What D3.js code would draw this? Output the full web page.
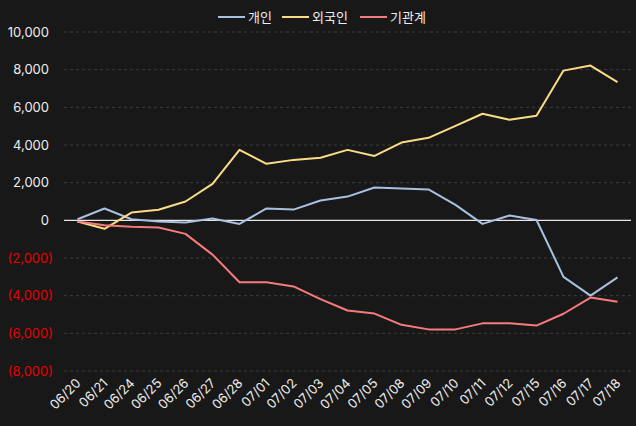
<!DOCTYPE html>
<html><head><meta charset="utf-8">
<script src="https://cdn.jsdelivr.net/npm/d3@7"></script>
<style>
html,body{margin:0;padding:0;background:#181818;}
svg{display:block;font-family:Inter,"Noto Sans CJK KR",sans-serif;}
</style></head>
<body><svg id="chart" width="636" height="426"></svg>
<script>
const dates = ["06/20","06/21","06/24","06/25","06/26","06/27","06/28","07/01","07/02","07/03","07/04","07/05","07/08","07/09","07/10","07/11","07/12","07/15","07/16","07/17","07/18"];
const individual = [60,630,60,-60,-110,100,-190,630,570,1050,1260,1740,1690,1640,820,-190,260,20,-3000,-4000,-3030];
const foreign = [-60,-450,410,560,1000,1940,3740,3000,3210,3320,3740,3420,4130,4380,5020,5660,5340,5550,7950,8220,7340];
const institution = [-60,-260,-340,-380,-720,-1820,-3290,-3290,-3510,-4180,-4790,-4950,-5550,-5790,-5790,-5470,-5470,-5590,-4960,-4100,-4320];
const yTicks = [10000,8000,6000,4000,2000,0,-2000,-4000,-6000,-8000];
const seriesNames = ["개인","외국인","기관계"];
const seriesColors = ["#a9c0e2","#fbdc86","#f77b7b"];

const svg = d3.select("#chart");
const W = 636, H = 426;
const m = {left:64, right:5, top:32, bottom:55};
const x = d3.scaleBand().domain(dates).range([m.left, W - m.right]);
const y = d3.scaleLinear().domain([-8000, 10000]).range([371, 32]);

// grid
svg.append("g").selectAll("line").data(yTicks.filter(d => d !== 0)).join("line")
  .attr("x1", m.left).attr("x2", W - m.right)
  .attr("y1", d => y(d)).attr("y2", d => y(d))
  .attr("stroke", "#3d3d3d").attr("stroke-width", 1).attr("stroke-dasharray", "3,3");

// y labels
const fmt = d3.format(",");
svg.append("g").selectAll("text").data(yTicks).join("text")
  .attr("x", d => d < 0 ? 53 : 49)
  .attr("y", d => y(d))
  .attr("dy", "0.35em")
  .attr("text-anchor", "end")
  .attr("font-size", 13)
  .attr("fill", d => d < 0 ? "#e60000" : "#eeeeee")
  .text(d => d < 0 ? "(" + fmt(-d) + ")" : fmt(d));

// x labels
svg.append("g").selectAll("text").data(dates).join("text")
  .attr("transform", d => `translate(${x(d) + x.bandwidth()/2 + 4},${384}) rotate(-45)`)
  .attr("text-anchor", "end")
  .attr("font-size", 13)
  .attr("fill", "#eeeeee")
  .text(d => d);

// zero line
svg.append("line").attr("x1", m.left).attr("x2", W - m.right)
  .attr("y1", y(0)).attr("y2", y(0)).attr("stroke", "#e8e8e8").attr("stroke-width", 1.2);

// lines
const allSeries = [individual, foreign, institution];
const line = d3.line().x((d, i) => x(dates[i]) + x.bandwidth()/2).y(d => y(d));
allSeries.forEach((s, k) => {
  svg.append("path").datum(s).attr("d", line)
    .attr("fill", "none").attr("stroke", seriesColors[k]).attr("stroke-width", 2)
    .attr("stroke-linejoin", "round");
});

// legend
const legX = [218, 282, 360];
const lg = svg.append("g");
seriesNames.forEach((n, k) => {
  lg.append("line").attr("x1", legX[k]).attr("x2", legX[k] + 27)
    .attr("y1", 17).attr("y2", 17).attr("stroke", seriesColors[k]).attr("stroke-width", 2);
  lg.append("text").attr("x", legX[k] + 30).attr("y", 17).attr("dy", "0.35em")
    .attr("font-size", 13).attr("fill", "#eeeeee").text(n);
});
</script></body></html>
